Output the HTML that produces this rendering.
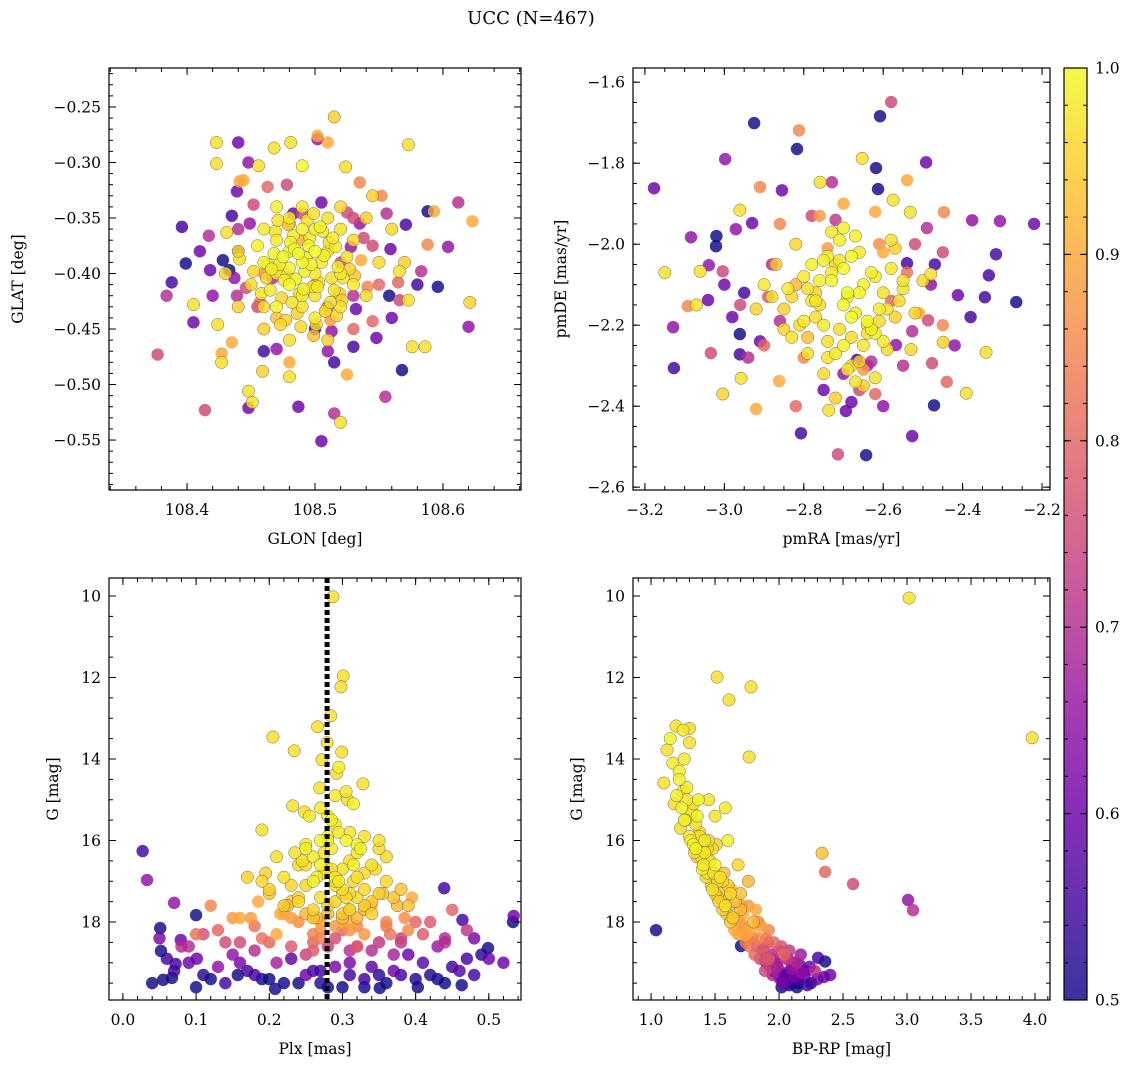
<!DOCTYPE html>
<html><head><meta charset="utf-8">
<style>
body{margin:0;background:#fff;}
svg{display:block;font-family:"DejaVu Serif","Liberation Serif",serif;}
</style></head>
<body>
<svg id="fig" width="1136" height="1067" viewBox="0 0 1136 1067" xmlns="http://www.w3.org/2000/svg">
<text x="531" y="24" font-size="18" text-anchor="middle">UCC (N=467)</text>
</svg>
<script>
// ---- Panel A: GLON vs GLAT ----
const glonA=[108.423,108.423,108.440,108.448,108.456,108.490,108.502,108.510,108.481,108.502,108.515,108.468,108.573,108.524,108.552,108.593,108.612,108.623,108.588,108.620,108.621,108.588,108.573,108.566,108.586,108.576,108.568,108.555,108.520,108.515,108.505,108.487,108.525,108.515,108.480,108.480,108.459,108.448,108.448,108.451,108.414,108.377,108.427,108.427,108.435,108.424,108.405,108.384,108.388,108.399,108.418,108.433,108.439,108.455,108.446,108.440,108.431,108.435,108.449,108.441,108.439,108.441,108.478,108.525,108.535,108.545,108.566,108.565,108.558,108.532,108.545,108.513,
108.47,108.48,108.49,108.50,108.51,108.49,108.47,108.48,108.50,108.52,108.46,108.45,108.48,108.50,108.51,108.53,108.53,108.49,108.47,108.46,108.50,108.52,108.55,108.54,108.46,108.44,108.47,108.49,108.52,108.51,108.48,108.44,108.56,108.545,108.475,108.495,108.505,108.485,108.515,108.465,108.525,108.455,108.49,108.50,108.48,108.52,108.46,108.43,108.54,108.57,
108.44,108.53,108.55,108.42,108.56,108.46,108.51,108.53,108.58,108.41,108.47,108.50,108.52,108.49,108.51,108.46,108.48,108.53,108.50,108.47,
108.472,108.478,108.484,108.488,108.492,108.496,108.503,108.507,108.512,108.518,108.469,108.474,108.481,108.486,108.493,108.498,108.504,108.509,108.516,108.522,108.466,108.471,108.477,108.483,108.489,108.494,108.501,108.506,108.513,108.519,108.462,108.468,108.476,108.482,108.487,108.497,108.502,108.511,108.517,108.527,108.458,108.463,108.473,108.479,108.491,108.499,108.508,108.514,108.521,108.531,108.452,108.536,108.541,108.457,108.538,108.467,108.528,108.483,108.499,108.512,
108.396,108.405,108.417,108.428,108.437,108.559,108.571,108.583,108.596,108.604,108.452,108.463,108.535,108.548,108.444,108.556,108.470,108.530,108.490,108.505];
const glatA=[-0.282,-0.301,-0.282,-0.300,-0.303,-0.303,-0.276,-0.282,-0.282,-0.279,-0.259,-0.287,-0.284,-0.304,-0.330,-0.344,-0.336,-0.353,-0.344,-0.448,-0.426,-0.374,-0.424,-0.424,-0.466,-0.466,-0.487,-0.511,-0.534,-0.526,-0.551,-0.520,-0.491,-0.480,-0.480,-0.493,-0.488,-0.521,-0.506,-0.516,-0.523,-0.473,-0.480,-0.472,-0.462,-0.446,-0.428,-0.420,-0.408,-0.391,-0.397,-0.397,-0.420,-0.430,-0.413,-0.380,-0.363,-0.348,-0.355,-0.387,-0.326,-0.317,-0.320,-0.345,-0.355,-0.375,-0.398,-0.408,-0.420,-0.432,-0.443,-0.452,
-0.37,-0.38,-0.39,-0.40,-0.38,-0.36,-0.40,-0.41,-0.42,-0.40,-0.39,-0.41,-0.35,-0.36,-0.35,-0.37,-0.41,-0.43,-0.43,-0.45,-0.44,-0.43,-0.39,-0.35,-0.36,-0.38,-0.34,-0.34,-0.34,-0.46,-0.46,-0.43,-0.36,-0.33,-0.385,-0.375,-0.39,-0.405,-0.415,-0.415,-0.385,-0.375,-0.42,-0.38,-0.395,-0.36,-0.43,-0.40,-0.42,-0.39,
-0.36,-0.35,-0.41,-0.42,-0.44,-0.47,-0.47,-0.45,-0.41,-0.38,-0.395,-0.41,-0.39,-0.37,-0.43,-0.40,-0.355,-0.42,-0.45,-0.44,
-0.392,-0.402,-0.378,-0.418,-0.398,-0.368,-0.408,-0.384,-0.426,-0.394,-0.362,-0.422,-0.372,-0.436,-0.386,-0.412,-0.358,-0.432,-0.376,-0.404,-0.396,-0.352,-0.442,-0.366,-0.448,-0.352,-0.446,-0.362,-0.404,-0.418,-0.404,-0.382,-0.406,-0.426,-0.382,-0.392,-0.412,-0.372,-0.438,-0.396,-0.418,-0.392,-0.446,-0.356,-0.414,-0.346,-0.434,-0.368,-0.424,-0.402,-0.398,-0.388,-0.412,-0.426,-0.368,-0.404,-0.376,-0.346,-0.456,-0.442,
-0.358,-0.444,-0.366,-0.388,-0.404,-0.378,-0.356,-0.398,-0.412,-0.376,-0.338,-0.322,-0.318,-0.458,-0.316,-0.346,-0.468,-0.466,-0.346,-0.336];
const probA=[0.97,0.97,0.6,0.65,0.97,1,0.9,0.9,0.97,0.65,0.95,0.97,0.97,0.97,0.85,0.9,0.7,0.9,0.5,0.65,0.95,0.85,0.97,0.75,0.97,0.97,0.5,0.7,0.97,0.7,0.6,0.6,0.9,0.55,0.9,0.97,0.95,0.6,0.97,0.97,0.75,0.75,0.97,0.9,0.9,0.97,0.97,0.7,0.55,0.5,0.6,0.5,0.7,0.75,0.75,0.6,0.97,0.55,0.65,0.97,0.6,0.9,0.75,0.75,0.65,0.75,0.97,0.8,0.5,0.6,0.8,0.65,
0.98,0.99,1,0.98,0.97,0.99,0.98,1,0.97,0.98,0.99,0.96,0.98,0.99,0.97,0.96,0.98,0.97,0.99,0.95,0.98,0.97,0.96,0.95,0.98,0.97,0.99,0.98,0.96,0.95,0.97,0.95,0.96,0.95,1,0.99,0.98,0.99,0.97,0.98,0.97,0.99,0.98,1,0.99,0.97,0.96,0.95,0.96,0.95,
0.7,0.75,0.8,0.65,0.6,0.55,0.65,0.8,0.55,0.6,0.9,0.85,0.75,0.9,0.6,0.88,0.92,0.7,0.55,0.93,
0.99,0.98,1,0.97,0.99,0.98,0.96,0.99,0.97,0.98,0.97,0.96,0.99,0.95,0.98,0.97,0.99,0.96,0.98,0.97,0.99,0.97,0.95,0.98,0.96,0.97,0.96,0.98,0.97,0.95,0.96,0.99,0.98,0.97,1,0.99,0.98,0.97,0.96,0.95,0.97,0.98,0.96,0.95,0.99,0.97,0.96,0.98,0.95,0.94,0.96,0.9,0.85,0.8,0.75,0.7,0.65,0.6,0.93,0.88,
0.55,0.6,0.7,0.5,0.65,0.6,0.55,0.7,0.5,0.65,0.75,0.8,0.85,0.6,0.9,0.7,0.65,0.55,0.75,0.6];

// ---- Panel B: pmRA vs pmDE ----
const pmraB=[-2.580,-2.925,-2.812,-2.608,-2.817,-2.653,-2.998,-3.177,-2.618,-2.492,-2.540,-2.376,-2.306,-2.316,-2.334,-2.344,-2.265,-2.412,-2.449,-2.477,-2.341,-2.391,-2.472,-2.527,-2.694,-2.714,-2.643,-2.807,-2.737,-2.862,-2.920,-3.004,-3.127,-3.129,-3.034,-2.961,-2.961,-2.958,-3.092,-3.061,-3.021,-3.084,-2.971,-2.930,-2.961,-2.910,-2.855,-2.729,-2.613,-2.759,-2.575,-2.447,-2.532,-3.039,-3.004,-2.480,-2.540,-2.527,-2.487,-2.568,-2.666,-3.041,-3.15,-3.07,-2.22,-2.45,
-2.70,-2.65,-2.75,-2.60,-2.80,-2.68,-2.72,-2.62,-2.78,-2.58,-2.85,-2.55,-2.70,-2.66,-2.74,-2.64,-2.82,-2.60,-2.76,-2.68,-2.88,-2.52,-2.71,-2.63,-2.79,-2.57,-2.69,-2.75,-2.61,-2.83,-2.67,-2.73,-2.59,-2.77,-2.65,-2.90,-2.50,-2.70,-2.62,-2.80,-2.56,-2.74,-2.66,-2.84,-2.64,-2.72,-2.58,-2.78,-2.68,-2.92,
-2.86,-2.55,-2.90,-2.48,-2.75,-2.62,-2.95,-2.52,-2.82,-2.60,-2.70,-2.88,-2.45,-2.98,-2.65,-2.78,
-2.69,-2.67,-2.73,-2.71,-2.63,-2.77,-2.61,-2.79,-2.65,-2.75,-2.59,-2.81,-2.68,-2.72,-2.66,-2.74,-2.62,-2.76,-2.64,-2.70,-2.57,-2.83,-2.55,-2.85,-2.53,-2.87,-2.69,-2.71,-2.67,-2.73,-2.60,-2.80,-2.58,-2.82,-2.66,-2.74,-2.63,-2.77,-2.61,-2.79,-2.51,-2.89,-2.54,-2.86,-2.70,-2.68,-2.72,-2.64,-2.76,-2.62,
-3.00,-2.94,-2.47,-2.42,-2.96,-2.44,-2.91,-2.49,-3.02,-2.38];
const pmdeB=[-1.649,-1.701,-1.719,-1.684,-1.765,-1.788,-1.790,-1.862,-1.812,-1.798,-1.842,-1.941,-1.943,-2.025,-2.077,-2.131,-2.143,-2.126,-2.242,-2.294,-2.267,-2.368,-2.398,-2.474,-2.412,-2.519,-2.521,-2.467,-2.410,-2.338,-2.407,-2.370,-2.306,-2.205,-2.269,-2.272,-2.222,-2.331,-2.153,-2.067,-2.005,-1.983,-1.963,-1.948,-1.916,-1.859,-1.867,-1.847,-1.864,-1.847,-1.891,-1.921,-1.921,-2.052,-2.067,-2.074,-2.047,-2.215,-2.188,-2.249,-2.286,-2.138,-2.07,-2.15,-1.95,-2.02,
-2.15,-2.10,-2.20,-2.12,-2.08,-2.18,-2.05,-2.22,-2.14,-2.06,-2.16,-2.11,-2.25,-2.02,-2.28,-2.19,-2.00,-2.24,-2.09,-2.30,-2.13,-2.17,-2.04,-2.21,-2.27,-2.01,-2.12,-2.32,-2.16,-2.23,-1.98,-2.07,-2.26,-2.18,-2.35,-2.10,-2.09,-1.96,-2.33,-2.19,-2.14,-2.03,-2.29,-2.11,-2.20,-2.38,-1.99,-2.05,-2.23,-2.16,
-1.95,-2.30,-2.25,-2.10,-2.36,-1.92,-2.12,-2.00,-2.40,-2.40,-1.90,-2.05,-2.20,-2.18,-2.31,-1.93,
-2.13,-2.17,-2.09,-2.21,-2.07,-2.14,-2.19,-2.11,-2.25,-2.04,-2.16,-2.20,-2.03,-2.27,-2.12,-2.24,-2.08,-2.15,-2.22,-2.06,-2.18,-2.13,-2.09,-2.21,-2.26,-2.05,-2.31,-1.99,-2.34,-1.97,-2.02,-2.28,-2.14,-2.10,-2.36,-2.01,-2.29,-2.12,-2.00,-2.23,-2.17,-2.13,-2.07,-2.19,-2.32,-2.39,-1.94,-2.30,-1.93,-2.37,
-2.10,-2.28,-2.05,-2.25,-2.15,-2.34,-2.24,-1.96,-1.98,-2.18];
const probB=[0.75,0.5,0.85,0.5,0.5,0.97,0.65,0.6,0.5,0.6,0.9,0.65,0.65,0.55,0.55,0.55,0.5,0.6,0.95,0.75,0.97,0.97,0.5,0.6,0.6,0.75,0.5,0.55,0.97,0.9,0.9,0.95,0.55,0.65,0.75,0.55,0.5,0.97,0.85,0.97,0.5,0.65,0.65,0.6,0.97,0.85,0.6,0.7,0.5,0.97,0.97,0.85,0.97,0.65,0.75,0.97,0.55,0.7,0.75,0.65,0.55,0.6,0.97,0.97,0.6,0.75,
1,0.99,0.98,0.97,0.98,1,0.96,0.99,0.97,0.98,0.95,0.97,0.99,0.98,0.97,1,0.96,0.98,0.99,0.95,0.97,0.96,0.98,0.99,0.97,0.95,1,0.96,0.98,0.97,0.99,0.98,0.96,0.97,0.95,0.98,0.96,0.99,0.97,0.98,0.96,0.99,0.95,0.98,0.97,0.95,0.97,0.99,0.96,0.95,
0.85,0.7,0.8,0.65,0.6,0.9,0.55,0.75,0.8,0.65,0.9,0.7,0.85,0.6,0.88,0.75,
0.99,0.98,1,0.97,0.99,0.98,0.96,0.97,0.98,0.99,0.97,0.96,1,0.98,0.99,0.97,0.98,0.96,0.97,1,0.95,0.96,0.97,0.95,0.96,0.94,0.98,0.99,0.97,0.98,0.9,0.85,0.8,0.92,0.75,0.88,0.7,0.95,0.86,0.93,0.9,0.78,0.82,0.7,0.65,0.6,0.72,0.68,0.88,0.8,
0.6,0.7,0.55,0.65,0.75,0.8,0.6,0.7,0.5,0.55];

// ---- Panel C: Plx vs G ----
const plxC=[0.287,0.301,0.298,0.205,0.266,0.284,0.234,0.299,0.328,0.272,0.269,0.232,0.292,0.279,0.190,0.248,0.307,0.027,0.033,0.051,0.070,0.052,0.055,0.067,0.072,0.079,0.100,0.101,0.439,0.464,0.534,0.533,0.499,0.463,0.403,0.351,0.208,0.157,
0.25,0.27,0.29,0.31,0.33,0.26,0.28,0.30,0.32,0.24,0.22,0.35,0.27,0.29,0.31,0.25,0.33,0.23,0.36,0.28,0.30,0.26,0.32,0.21,0.34,0.38,0.19,0.27,0.29,0.31,0.24,0.35,0.22,0.37,0.28,0.30,0.26,0.33,0.17,0.39,0.25,0.31,0.28,0.20,0.36,0.29,0.23,0.34,0.27,0.32,
0.12,0.15,0.18,0.21,0.24,0.27,0.30,0.33,0.36,0.39,0.42,0.45,0.14,0.20,0.26,0.32,0.38,0.44,0.16,0.22,0.28,0.34,0.40,0.10,
0.06,0.09,0.13,0.17,0.21,0.25,0.29,0.33,0.37,0.41,0.45,0.49,0.08,0.15,0.23,0.31,0.39,0.47,0.11,0.19,0.27,0.35,0.43,0.50,0.05,0.14,0.24,0.36,0.42,0.30,
0.285,0.295,0.305,0.275,0.315,0.265,0.290,0.310,0.280,0.300,0.320,0.260,0.285,0.295,0.305,0.275,0.315,0.255,0.325,0.245,0.290,0.300,0.310,0.280,0.270,0.320,0.330,0.250,0.340,0.240,0.285,0.295,0.305,0.265,0.315,0.235,0.345,0.225,0.355,0.215,0.290,0.300,0.310,0.270,0.320,0.260,0.330,0.250,0.340,0.200,0.360,0.185,0.375,0.230,0.385,0.350,0.195,0.365,0.175,0.395,
0.13,0.16,0.19,0.23,0.26,0.29,0.32,0.35,0.38,0.41,0.44,0.47,0.11,0.18,0.25,0.31,0.37,0.43,0.48,0.09,
0.07,0.12,0.18,0.22,0.27,0.33,0.38,0.44,0.46,0.52,0.04,0.16,0.20,0.26,0.34,0.40,0.48,0.10,0.28,0.31];
const gC=[10.02,11.96,12.23,13.46,13.21,12.94,13.80,13.83,14.61,14.02,14.71,15.15,14.35,13.60,15.74,15.30,15.00,16.26,16.97,18.15,17.53,18.71,19.42,19.37,19.03,18.44,17.83,18.9,17.17,17.95,17.85,18.00,18.64,19.55,19.60,19.62,19.64,19.30,
16.2,16.0,15.6,16.5,16.8,17.0,15.9,17.2,16.3,17.5,16.9,17.3,16.6,17.0,15.8,16.1,17.6,17.1,16.4,15.4,16.7,17.7,17.4,16.4,17.8,17.2,17.0,17.4,16.9,17.7,16.6,16.2,17.6,17.4,16.0,17.3,17.9,15.9,16.9,17.6,17.8,18.0,16.7,17.2,17.0,14.9,17.5,16.6,15.2,17.9,
17.6,17.9,18.1,18.3,18.0,18.4,18.2,18.3,18.1,18.2,18.0,17.7,18.5,18.5,18.7,18.6,18.5,18.4,17.9,17.8,18.6,18.7,18.0,18.3,
18.9,19.0,19.1,19.2,19.0,19.3,19.1,19.4,19.2,19.0,19.1,18.8,18.6,18.8,18.9,19.0,18.8,18.9,19.3,19.4,19.2,19.3,19.4,18.9,18.4,19.5,19.5,19.5,19.3,19.6,
15.5,15.8,16.0,16.3,16.6,16.9,17.1,17.3,17.6,17.8,16.1,16.4,16.7,17.0,17.4,16.8,15.1,15.4,16.2,16.5,17.5,17.9,17.7,17.8,18.0,16.9,17.2,17.1,17.5,17.4,16.2,14.2,14.8,17.9,17.0,16.3,16.7,17.6,17.3,17.8,18.1,18.0,18.2,18.2,18.1,18.3,17.7,16.6,17.6,17.3,18.0,17.5,17.6,17.9,17.9,16.0,16.8,18.3,17.9,17.4,
18.2,18.5,18.4,18.6,18.5,18.4,18.6,18.5,18.4,18.3,18.5,18.2,18.3,18.7,18.8,18.7,18.8,18.6,18.4,18.6,
19.2,19.4,19.3,19.5,19.5,19.6,19.3,19.5,19.2,19.0,19.5,19.0,19.4,19.2,19.1,19.4,19.3,19.6,19.6,19.3];
const probC=[0.97,0.97,0.97,0.97,0.97,0.97,0.97,0.97,0.97,0.97,0.97,0.97,0.97,0.97,0.97,0.97,0.97,0.55,0.65,0.5,0.65,0.5,0.5,0.5,0.55,0.6,0.5,0.6,0.55,0.55,0.6,0.5,0.5,0.5,0.5,0.5,0.5,0.5,
0.99,1,0.98,0.97,0.96,0.99,0.98,0.97,0.98,0.96,0.97,0.95,0.99,0.98,0.97,0.98,0.95,0.96,0.96,0.98,0.97,0.95,0.96,0.97,0.95,0.94,0.96,0.97,0.98,0.95,0.96,0.96,0.94,0.93,0.99,0.96,0.93,0.97,0.95,0.93,0.92,0.9,0.97,0.95,0.96,0.98,0.93,0.97,0.98,0.92,
0.85,0.88,0.82,0.9,0.86,0.84,0.8,0.87,0.83,0.85,0.78,0.8,0.75,0.8,0.78,0.76,0.72,0.7,0.9,0.9,0.74,0.7,0.8,0.82,
0.55,0.6,0.65,0.55,0.68,0.6,0.62,0.55,0.6,0.58,0.55,0.52,0.7,0.65,0.58,0.62,0.6,0.55,0.52,0.5,0.55,0.52,0.5,0.6,0.62,0.55,0.5,0.5,0.52,0.5,
0.99,0.98,1,0.97,0.99,0.98,0.97,0.96,0.95,0.94,0.99,0.98,0.97,0.98,0.96,0.97,0.99,0.98,0.99,0.97,0.95,0.93,0.94,0.92,0.9,0.97,0.96,0.96,0.94,0.95,0.98,0.99,0.98,0.92,0.96,0.97,0.96,0.93,0.94,0.9,0.88,0.9,0.87,0.86,0.85,0.84,0.92,0.96,0.9,0.93,0.85,0.9,0.92,0.88,0.86,0.97,0.95,0.82,0.88,0.9,
0.8,0.75,0.82,0.78,0.8,0.76,0.78,0.72,0.74,0.78,0.7,0.72,0.76,0.7,0.74,0.7,0.68,0.66,0.62,0.7,
0.55,0.5,0.55,0.5,0.52,0.5,0.55,0.5,0.58,0.6,0.5,0.62,0.5,0.55,0.58,0.52,0.55,0.5,0.5,0.55];

// ---- Panel D: BP-RP vs G ----
const bprpD=[3.016,3.977,1.516,1.609,1.781,1.766,2.336,2.360,2.578,3.008,3.047,1.039,2.305,2.36,1.703,
1.195,1.250,1.150,1.125,1.170,1.220,1.100,1.250,1.300,1.200,1.180,1.280,1.320,1.260,1.230,1.350,1.300,1.380,1.330,1.400,1.420,1.360,1.450,1.480,1.400,1.500,1.520,1.440,1.560,1.600,1.480,1.540,1.620,1.660,1.580,1.700,1.720,1.640,1.760,1.540,1.600,1.680,1.500,1.580,1.450,1.700,1.820,1.620,1.760,1.520,
1.80,1.86,1.92,1.74,1.84,1.96,1.88,1.78,2.00,1.94,2.06,1.90,2.02,1.98,2.10,2.04,2.14,2.20,1.92,2.08,
1.95,2.00,2.05,2.10,2.15,2.20,2.25,2.30,2.02,2.08,2.12,2.18,2.22,2.35,1.98,2.04,2.14,2.28,2.40,1.90,2.10,2.16,2.06,1.88,
1.22,1.26,1.30,1.24,1.28,1.33,1.36,1.31,1.38,1.42,1.35,1.39,1.44,1.41,1.46,1.43,1.49,1.47,1.52,1.50,1.55,1.53,1.58,1.56,1.61,1.63,1.59,1.66,1.69,1.65,1.72,1.68,1.75,1.74,1.79,1.77,1.83,1.81,1.87,1.85,1.90,1.93,1.89,1.97,1.95,1.99,2.01,2.05,2.03,2.09,
1.27,1.34,1.45,1.37,1.51,1.57,1.63,1.71,1.67,1.84,1.91,2.07,2.12,2.17,2.24,2.00,2.11,2.19,1.96,2.15];
const gD=[10.05,13.48,11.99,12.55,12.23,13.95,16.31,16.77,17.07,17.46,17.71,18.20,18.88,18.97,18.59,
13.19,13.29,13.50,13.78,14.10,14.30,14.59,14.80,13.25,14.90,15.10,15.00,15.30,15.50,15.70,15.60,15.90,15.80,16.10,16.00,16.30,16.40,16.50,16.20,16.70,16.60,16.90,16.80,17.00,17.10,17.20,17.40,17.30,17.50,17.60,17.70,17.80,17.90,17.60,16.90,16.00,16.60,15.40,15.20,15.00,17.30,17.70,18.00,17.00,17.40,
18.00,18.10,18.20,18.30,18.40,18.50,18.60,18.20,18.70,18.80,18.90,18.40,18.60,19.00,19.10,18.80,19.00,19.20,18.90,18.70,
19.20,19.30,19.40,19.50,19.40,19.30,19.50,19.40,19.60,19.55,19.35,19.25,19.55,19.35,19.10,19.45,19.60,19.20,19.30,19.00,19.15,19.05,19.25,18.90,
14.5,14.0,13.6,15.2,14.7,15.1,15.4,16.0,15.9,16.0,16.2,16.4,16.2,16.6,16.5,16.9,16.8,17.1,17.0,17.3,17.2,17.5,17.4,17.7,17.6,17.9,17.8,17.9,18.0,18.2,18.1,18.3,18.3,18.5,18.4,18.6,18.6,18.8,18.7,18.9,19.0,19.1,19.2,19.2,19.3,19.1,19.4,19.3,19.5,19.4,
15.5,16.3,16.0,15.0,16.1,16.8,17.2,17.6,17.9,18.0,18.5,18.9,19.0,18.8,19.1,19.3,19.4,19.2,18.9,19.5];
const probD=[0.97,0.97,0.97,0.97,0.97,0.97,0.93,0.8,0.75,0.65,0.7,0.5,0.55,0.5,0.5,
0.97,0.98,0.99,0.97,0.98,0.99,0.97,0.98,0.96,0.99,0.97,0.98,0.97,0.99,0.96,0.97,0.98,0.96,0.99,0.97,0.98,0.95,0.97,0.96,0.98,0.99,0.95,0.97,0.96,0.95,0.97,0.94,0.96,0.93,0.97,0.92,0.9,0.95,0.88,0.98,0.99,0.96,0.97,0.98,0.97,0.93,0.9,0.94,0.92,0.95,
0.92,0.88,0.85,0.9,0.85,0.8,0.78,0.9,0.75,0.7,0.72,0.82,0.76,0.68,0.65,0.8,0.7,0.6,0.78,0.72,
0.6,0.55,0.52,0.5,0.55,0.58,0.5,0.6,0.5,0.52,0.62,0.65,0.55,0.6,0.68,0.5,0.5,0.7,0.6,0.7,0.65,0.6,0.58,0.75,
0.99,0.98,0.97,0.99,0.98,0.97,0.99,0.98,0.97,0.98,0.99,0.97,0.96,0.98,0.97,0.96,0.97,0.95,0.96,0.95,0.94,0.95,0.93,0.94,0.92,0.9,0.93,0.9,0.88,0.9,0.86,0.88,0.84,0.85,0.8,0.82,0.78,0.8,0.75,0.76,0.72,0.7,0.74,0.65,0.68,0.66,0.6,0.58,0.62,0.55,
0.98,0.97,0.96,0.99,0.95,0.93,0.9,0.88,0.85,0.85,0.75,0.7,0.62,0.66,0.58,0.55,0.52,0.6,0.64,0.5];

// ---- Axis ticks ----
const ticksAx=[108.4,108.5,108.6], ticksAxLbl=["108.4","108.5","108.6"];
const ticksAy=[-0.25,-0.30,-0.35,-0.40,-0.45,-0.50,-0.55], ticksAyLbl=["−0.25","−0.30","−0.35","−0.40","−0.45","−0.50","−0.55"];
const ticksBx=[-3.2,-3.0,-2.8,-2.6,-2.4,-2.2], ticksBxLbl=["−3.2","−3.0","−2.8","−2.6","−2.4","−2.2"];
const ticksBy=[-1.6,-1.8,-2.0,-2.2,-2.4,-2.6], ticksByLbl=["−1.6","−1.8","−2.0","−2.2","−2.4","−2.6"];
const ticksCx=[0,0.1,0.2,0.3,0.4,0.5], ticksCxLbl=["0.0","0.1","0.2","0.3","0.4","0.5"];
const ticksGy=[10,12,14,16,18], ticksGyLbl=["10","12","14","16","18"];
const ticksDx=[1,1.5,2,2.5,3,3.5,4], ticksDxLbl=["1.0","1.5","2.0","2.5","3.0","3.5","4.0"];
const ticksCb=[0.5,0.6,0.7,0.8,0.9,1.0], ticksCbLbl=["0.5","0.6","0.7","0.8","0.9","1.0"];
const plxMean=0.279;

const NS="http://www.w3.org/2000/svg";
const fig=document.getElementById('fig');
function mk(tag,attrs,parent){const e=document.createElementNS(NS,tag);for(const k in attrs)e.setAttribute(k,attrs[k]);(parent||fig).appendChild(e);return e;}
const stops=["#0d0887","#41049d","#6a00a8","#8f0da4","#b12a90","#cc4778","#e16462","#f2844b","#fca636","#fcce25","#f0f921"];
function hex(c){return [parseInt(c.slice(1,3),16),parseInt(c.slice(3,5),16),parseInt(c.slice(5,7),16)];}
function plasma(p){let t=Math.max(0,Math.min(1,(p-0.5)/0.5))*10;const i=Math.min(9,Math.floor(t)),f=t-i;const a=hex(stops[i]),b=hex(stops[i+1]);return `rgb(${a.map((v,k)=>Math.round(v+(b[k]-v)*f)).join(',')})`;}

function panel(name,box,xd,yd,xT,xL,yT,yL,xMinor,yMinor,xs,ys,ps,xlab,ylab,ylabX){
  const g=mk('g',{});
  
  
  const sx=v=>box.x0+(v-xd[0])/(xd[1]-xd[0])*(box.x1-box.x0);
  const sy=v=>box.y0+(v-yd[0])/(yd[1]-yd[0])*(box.y1-box.y0);
  const clip=mk('clipPath',{id:'c'+name},g);mk('rect',{x:box.x0,y:box.y0,width:box.x1-box.x0,height:box.y1-box.y0},clip);
  const pts=mk('g',{'clip-path':`url(#c${name})`},g);
  const idx=ps.map((p,i)=>i).sort((a,b)=>ps[a]-ps[b]);
  for(const i of idx){
    const c=mk('circle',{cx:sx(xs[i]),cy:sy(ys[i]),r:6.2,fill:plasma(ps[i]),'fill-opacity':0.82,stroke:ps[i]>0.9?'#6d6d50':'none','stroke-width':0.5},pts);
    
    
  }
  mk('rect',{x:box.x0,y:box.y0,width:box.x1-box.x0,height:box.y1-box.y0,fill:'none',stroke:'#000','stroke-width':1.2},g);
  const tk=(x1,y1,x2,y2)=>mk('line',{x1,y1,x2,y2,stroke:'#000','stroke-width':1},g);
  const lo=Math.min(...xd),hi=Math.max(...xd);
  for(let v=Math.ceil(lo/xMinor)*xMinor;v<=hi;v+=xMinor){const x=sx(v);tk(x,box.y1,x,box.y1-4);tk(x,box.y0,x,box.y0+4);}
  const ylo=Math.min(...yd),yhi=Math.max(...yd);
  for(let v=Math.ceil(ylo/yMinor)*yMinor;v<=yhi;v+=yMinor){const y=sy(v);tk(box.x0,y,box.x0+4,y);tk(box.x1,y,box.x1-4,y);}
  xT.forEach((v,i)=>{const x=sx(v);tk(x,box.y1,x,box.y1-7);tk(x,box.y0,x,box.y0+7);
    const t=mk('text',{x:x,y:box.y1+25,'font-size':15.5,'text-anchor':'middle'},g);t.textContent=xL[i];
    });
  yT.forEach((v,i)=>{const y=sy(v);tk(box.x0,y,box.x0+7,y);tk(box.x1,y,box.x1-7,y);
    const t=mk('text',{x:box.x0-8,y:y+5.5,'font-size':15.5,'text-anchor':'end'},g);t.textContent=yL[i];
    });
  const xl=mk('text',{x:(box.x0+box.x1)/2,y:box.y1+54,'font-size':15.5,'text-anchor':'middle'},g);xl.textContent=xlab;
  
  const yc=(box.y0+box.y1)/2;
  const yl=mk('text',{x:ylabX,y:yc,'font-size':15.5,'text-anchor':'middle',transform:`rotate(-90 ${ylabX} ${yc})`},g);yl.textContent=ylab;
  
  return {sx,sy,g};
}
panel('glon-glat-panel',{x0:109,x1:521,y0:68,y1:490},[108.339,108.661],[-0.2149,-0.595],ticksAx,ticksAxLbl,ticksAy,ticksAyLbl,0.02,0.01,glonA,glatA,probA,'GLON [deg]','GLAT [deg]',23);
panel('pm-panel',{x0:633,x1:1050,y0:68,y1:490},[-3.230,-2.180],[-1.565,-2.607],ticksBx,ticksBxLbl,ticksBy,ticksByLbl,0.05,0.05,pmraB,pmdeB,probB,'pmRA [mas/yr]','pmDE [mas/yr]',566);
const pc=panel('plx-g-panel',{x0:109,x1:521,y0:578,y1:1000},[-0.019,0.544],[9.558,19.914],ticksCx,ticksCxLbl,ticksGy,ticksGyLbl,0.02,0.5,plxC,gC,probC,'Plx [mas]','G [mag]',58);
const ml=mk('line',{x1:pc.sx(plxMean),x2:pc.sx(plxMean),y1:578,y2:1000,stroke:'#000','stroke-width':5,'stroke-dasharray':'5 3'},pc.g);


panel('cmd-panel',{x0:633,x1:1050,y0:578,y1:1000},[0.859,4.117],[9.558,19.914],ticksDx,ticksDxLbl,ticksGy,ticksGyLbl,0.1,0.5,bprpD,gD,probD,'BP-RP [mag]','G [mag]',582);

// colorbar
const cb=mk('g',{});


const defs=mk('defs',{},cb);
const lg=mk('linearGradient',{id:'cbg',x1:0,y1:1,x2:0,y2:0},defs);
stops.forEach((c,i)=>mk('stop',{offset:i/10,'stop-color':c,'stop-opacity':0.82},lg));
mk('rect',{x:1064,y:68,width:23,height:932,fill:'url(#cbg)',stroke:'#000','stroke-width':1.2},cb);
const cy=v=>1000-(v-0.5)/0.5*932;
for(let v=0.5;v<=1.0001;v+=0.02){mk('line',{x1:1087,x2:1083,y1:cy(v),y2:cy(v),stroke:'#000'},cb);mk('line',{x1:1064,x2:1068,y1:cy(v),y2:cy(v),stroke:'#000'},cb);}
ticksCb.forEach((v,i)=>{mk('line',{x1:1087,x2:1080,y1:cy(v),y2:cy(v),stroke:'#000'},cb);mk('line',{x1:1064,x2:1071,y1:cy(v),y2:cy(v),stroke:'#000'},cb);
  const t=mk('text',{x:1095,y:cy(v)+5.5,'font-size':15.5},cb);t.textContent=ticksCbLbl[i];
  });
</script>
</body></html>
